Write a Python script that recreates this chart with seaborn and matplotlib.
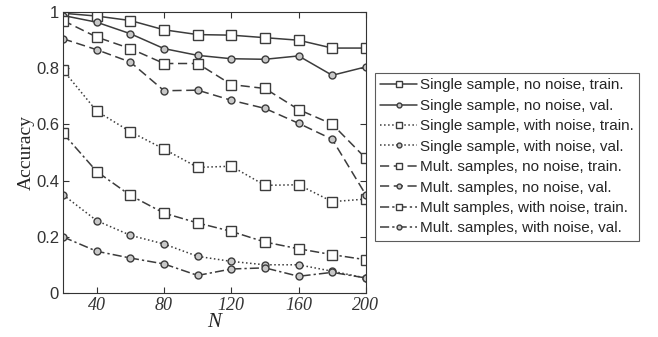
import numpy as np
import pandas as pd
import matplotlib
matplotlib.use("Agg")
import matplotlib.pyplot as plt
import seaborn as sns

sns.set_style("ticks")
plt.rcParams['font.family'] = ['Liberation Sans', 'DejaVu Sans']
plt.rcParams['xtick.direction'] = 'in'
plt.rcParams['ytick.direction'] = 'in'

# data
N = [20, 40, 60, 80, 100, 120, 140, 160, 180, 200]
single_clean_train = [0.996, 0.986, 0.97, 0.937, 0.92, 0.918, 0.909, 0.90, 0.872, 0.872]
single_clean_val = [0.988, 0.964, 0.923, 0.87, 0.846, 0.834, 0.832, 0.844, 0.775, 0.805]
single_noise_train = [0.793, 0.647, 0.574, 0.512, 0.447, 0.451, 0.383, 0.385, 0.325, 0.334]
single_noise_val = [0.349, 0.257, 0.205, 0.174, 0.13, 0.112, 0.10, 0.10, 0.077, 0.053]
mult_clean_train = [0.97, 0.911, 0.87, 0.817, 0.817, 0.742, 0.728, 0.653, 0.601, 0.479]
mult_clean_val = [0.905, 0.866, 0.822, 0.72, 0.722, 0.686, 0.657, 0.604, 0.547, 0.349]
mult_noise_train = [0.568, 0.432, 0.347, 0.284, 0.249, 0.219, 0.181, 0.157, 0.136, 0.118]
mult_noise_val = [0.199, 0.148, 0.124, 0.103, 0.062, 0.085, 0.089, 0.059, 0.073, 0.053]

labels = ['Single sample, no noise, train.',
          'Single sample, no noise, val.',
          'Single sample, with noise, train.',
          'Single sample, with noise, val.',
          'Mult. samples, no noise, train.',
          'Mult. samples, no noise, val.',
          'Mult samples, with noise, train.',
          'Mult. samples, with noise, val.']
series = [single_clean_train, single_clean_val, single_noise_train, single_noise_val,
          mult_clean_train, mult_clean_val, mult_noise_train, mult_noise_val]
styles = ['-', '-', ':', ':', (0, (6, 3)), (0, (6, 3)), (0, (6, 2, 1.5, 2)), (0, (6, 2, 1.5, 2))]

fig = plt.figure(figsize=(6.58, 3.37), dpi=100)
ax = fig.add_axes([0.096, 0.131, 0.460, 0.833])

line_color = '#3c3c3c'
for vals, lab, ls in zip(series, labels, styles):
    is_train = lab.endswith('train.')
    sns.lineplot(x=N, y=vals, ax=ax, label=lab, color=line_color, linestyle=ls,
                 linewidth=1.1, marker='s' if is_train else 'o',
                 markersize=7 if is_train else 5,
                 markerfacecolor='white' if is_train else '#c8c8c8',
                 markeredgecolor=line_color, markeredgewidth=1.0)

ax.set_xlim(20, 200)
ax.set_ylim(0, 1)
ax.set_xticks([40, 80, 120, 160, 200])
ax.set_xticklabels(['40', '80', '120', '160', '200'], family='Liberation Serif',
                   style='italic', fontsize=13)
ax.set_yticks([0, 0.2, 0.4, 0.6, 0.8, 1])
ax.set_yticklabels(['0', '0.2', '0.4', '0.6', '0.8', '1'], fontsize=12)
ax.tick_params(top=True, right=True, length=4, colors='#333333', pad=3)
for sp in ax.spines.values():
    sp.set_color('#333333')
ax.set_xlabel('N', family='Liberation Serif', style='italic', fontsize=15, labelpad=-1)
ax.set_ylabel('Accuracy', family='Liberation Serif', fontsize=14, labelpad=1)

leg = ax.legend(loc='upper left', bbox_to_anchor=(0.570, 0.783), bbox_transform=fig.transFigure,
                fontsize=11, frameon=True, fancybox=False, handlelength=2.4,
                handletextpad=0.2, labelspacing=0.42, borderpad=0.35, borderaxespad=0,
                markerscale=0.7)
leg.get_frame().set_edgecolor('#333333')
leg.get_frame().set_linewidth(0.8)

fig.savefig('out.png', dpi=100)
